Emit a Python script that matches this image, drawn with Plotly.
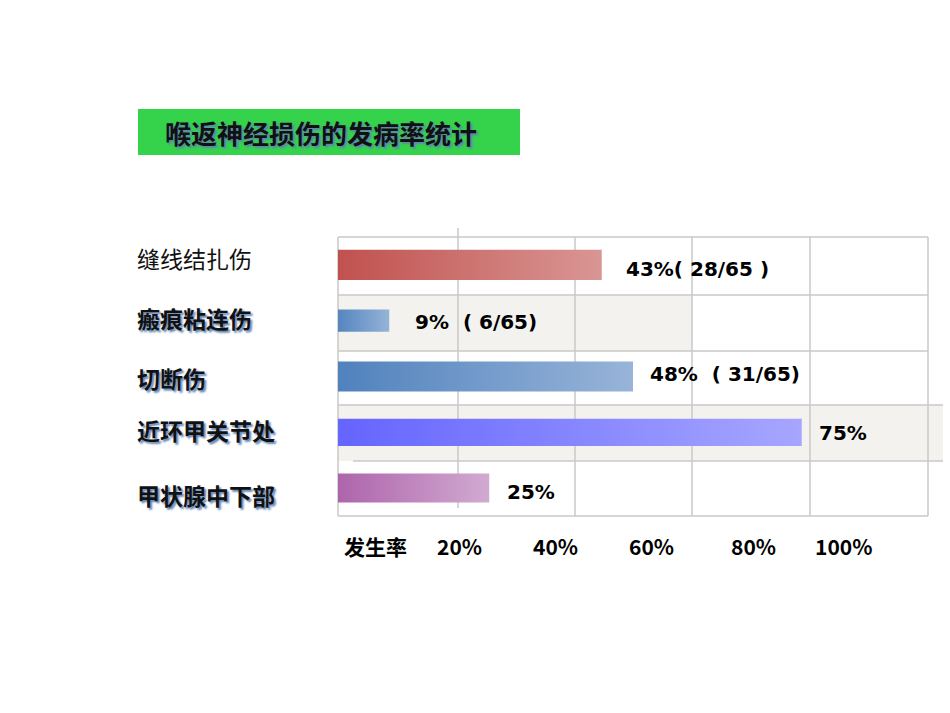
import plotly.graph_objects as go

# ---------------- data ----------------
categories = ["缝线结扎伤", "瘢痕粘连伤", "切断伤", "近环甲关节处", "甲状腺中下部"]
rates = [43, 9, 48, 75, 25]
value_labels = ["43%( 28/65 )", "9%\u00a0\u00a0( 6/65)", "48%\u00a0\u00a0( 31/65)", "75%", "25%"]
axis_labels = ["发生率", "20%", "40%", "60%", "80%", "100%"]
title_text = "喉返神经损伤的发病率统计"

# ---------------- styles ----------------
W, H = 950, 713
bar_colors = [("#c0504d", "#d99694"), ("#4f81bd", "#95b3d7"), ("#4f81bd", "#98b4d8"),
              ("#6464ff", "#a6a6ff"), ("#ad62aa", "#d1aad1")]
bar_thick = [0.54, 0.40, 0.54, 0.49, 0.52]
label_xshift = [22, 24, 15, 15, 16]
label_yshift = [-4, -1, 3, -1, -4]
cat_y_px = [258, 318, 378, 430, 495]
axis_label_x_px = [375, 459, 555, 651, 753, 843]
grid_color = "#c9c9c9"
band_color = "#f3f2ee"
shadow = "2px 2px 2px #5f84b5"


def px(x):
    return x / W


def py(y):
    return 1 - y / H


fig = go.Figure()

for i, (cat, v) in enumerate(zip(categories, rates)):
    h = bar_thick[i] / 2
    fig.add_trace(go.Scatter(
        x=[0, v, v, 0, 0],
        y=[i - h, i - h, i + h, i + h, i - h],
        mode="lines", fill="toself",
        line=dict(width=0),
        fillgradient=dict(type="horizontal",
                          colorscale=[[0, bar_colors[i][0]], [1, bar_colors[i][1]]]),
        hoverinfo="skip", showlegend=False,
    ))

shapes = []
# title box
shapes.append(dict(type="rect", xref="paper", yref="paper",
                   x0=px(138), x1=px(520), y0=py(155), y1=py(109),
                   fillcolor="#35d24b", line=dict(width=0), layer="below"))
# shaded bands
shapes.append(dict(type="rect", xref="paper", yref="paper",
                   x0=px(338), x1=px(692), y0=py(351), y1=py(295),
                   fillcolor=band_color, line=dict(width=0), layer="below"))
shapes.append(dict(type="rect", xref="paper", yref="paper",
                   x0=px(338), x1=px(943), y0=py(461), y1=py(405),
                   fillcolor=band_color, line=dict(width=0), layer="below"))
# horizontal grid lines
for y, xa, xb in [(237, 338, 928), (295, 338, 928), (351, 338, 928),
                  (405, 338, 943), (461, 353, 943), (516, 338, 928)]:
    shapes.append(dict(type="line", xref="paper", yref="paper",
                       x0=px(xa), x1=px(xb), y0=py(y), y1=py(y),
                       line=dict(color=grid_color, width=1.5), layer="below"))
# vertical grid lines
for x, ya, yb in [(338, 237, 516), (458, 228, 508), (575, 237, 516),
                  (692, 237, 516), (810, 237, 516), (928, 237, 516)]:
    shapes.append(dict(type="line", xref="paper", yref="paper",
                       x0=px(x), x1=px(x), y0=py(yb), y1=py(ya),
                       line=dict(color=grid_color, width=1.5), layer="below"))

annotations = []
# title
annotations.append(dict(text=title_text, xref="paper", yref="paper",
                        x=px(163), y=py(132), xanchor="left", yanchor="middle",
                        showarrow=False,
                        font=dict(family="Noto Sans CJK SC", size=26, color="#111111",
                                  weight="bold", shadow=shadow)))
# category labels
for i, cat in enumerate(categories):
    first = i == 0
    annotations.append(dict(text=cat, xref="paper", yref="paper",
                            x=px(135), y=py(cat_y_px[i]), xanchor="left", yanchor="middle",
                            showarrow=False,
                            font=dict(family="Noto Sans CJK SC", size=23, color="#111111",
                                      weight="normal" if first else "bold",
                                      shadow="none" if first else shadow)))
# value labels
for i, (v, t) in enumerate(zip(rates, value_labels)):
    annotations.append(dict(text=t, x=v, y=i, xref="x", yref="y",
                            xanchor="left", yanchor="middle", showarrow=False,
                            xshift=label_xshift[i], yshift=label_yshift[i],
                            font=dict(family="DejaVu Sans", size=20, color="#000000",
                                      weight="bold")))
# bottom axis labels
for t, xp in zip(axis_labels, axis_label_x_px):
    annotations.append(dict(text=t, xref="paper", yref="paper",
                            x=px(xp), y=py(546), xanchor="center", yanchor="middle",
                            showarrow=False,
                            font=dict(family="Noto Sans CJK SC", size=21, color="#000000",
                                      weight="bold")))

fig.update_layout(
    width=W, height=H,
    margin=dict(l=0, r=0, t=0, b=0),
    paper_bgcolor="white", plot_bgcolor="rgba(0,0,0,0)",
    xaxis=dict(domain=[px(338), px(928)], range=[0.8, 95.2], visible=False,
               showgrid=False, zeroline=False, fixedrange=True),
    yaxis=dict(domain=[py(516), py(237)], range=[4.5, -0.5], visible=False,
               showgrid=False, zeroline=False, fixedrange=True),
    shapes=shapes, annotations=annotations,
    showlegend=False,
)

fig.write_html("out.html")
